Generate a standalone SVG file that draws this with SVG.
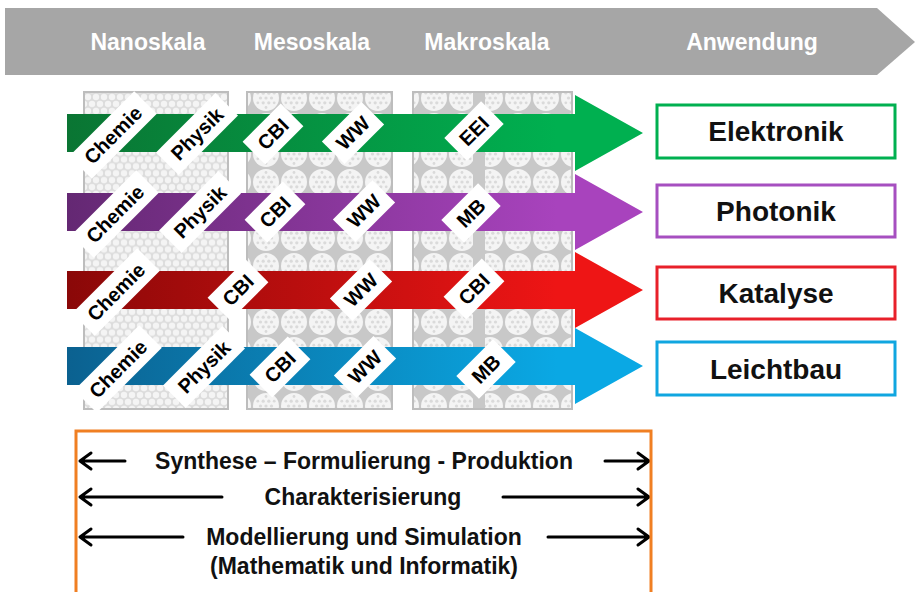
<svg xmlns="http://www.w3.org/2000/svg" width="915" height="592" viewBox="0 0 915 592">
<style>
.hdr{font-family:"Liberation Sans",Arial,sans-serif;font-weight:bold;font-size:23px;fill:#fff;text-anchor:middle}
.lbl{font-family:"Liberation Sans",Arial,sans-serif;font-weight:bold;font-size:20px;fill:#000;text-anchor:middle}
.app{font-family:"Liberation Sans",Arial,sans-serif;font-weight:bold;font-size:28px;fill:#111;text-anchor:middle}
.bt{font-family:"Liberation Sans",Arial,sans-serif;font-weight:bold;font-size:23px;fill:#111;text-anchor:middle}
.tag{fill:#fff}
.panel{stroke:#bdbdbd;stroke-width:2}
.box{fill:#fff;stroke-width:3}
.ln{fill:none;stroke:#000;stroke-width:3;stroke-linecap:round;stroke-linejoin:round}
</style>
<defs>
<pattern id="fine" width="8" height="13.86" patternUnits="userSpaceOnUse">
<rect width="8" height="13.86" fill="#dcdcdc"/>
<g fill="#f4f4f4"><circle cx="0" cy="0" r="3.2"/><circle cx="8" cy="0" r="3.2"/><circle cx="0" cy="13.86" r="3.2"/><circle cx="8" cy="13.86" r="3.2"/><circle cx="4" cy="6.93" r="3.2"/></g>
</pattern>
<pattern id="coarse" width="28" height="28" patternUnits="userSpaceOnUse">
<rect width="28" height="28" fill="#c8c8c8"/>
<circle cx="14" cy="14" r="13" fill="#f4f4f4"/>
<g fill="#dadada"><circle cx="14" cy="14" r="1.6"/><circle cx="8.5" cy="14" r="1.6"/><circle cx="19.5" cy="14" r="1.6"/><circle cx="11.2" cy="9.2" r="1.6"/><circle cx="16.8" cy="9.2" r="1.6"/><circle cx="11.2" cy="18.8" r="1.6"/><circle cx="16.8" cy="18.8" r="1.6"/><circle cx="5.8" cy="9.2" r="1.4"/><circle cx="22.2" cy="9.2" r="1.4"/><circle cx="5.8" cy="18.8" r="1.4"/><circle cx="22.2" cy="18.8" r="1.4"/><circle cx="14" cy="4.5" r="1.4"/><circle cx="14" cy="23.5" r="1.4"/></g>
</pattern>
<linearGradient id="gG" gradientUnits="userSpaceOnUse" x1="67" y1="0" x2="643" y2="0"><stop offset="0" stop-color="#0a7533"/><stop offset="0.85" stop-color="#00b050"/><stop offset="1" stop-color="#00b050"/></linearGradient>
<linearGradient id="gP" gradientUnits="userSpaceOnUse" x1="67" y1="0" x2="643" y2="0"><stop offset="0" stop-color="#642873"/><stop offset="0.85" stop-color="#a843bd"/><stop offset="1" stop-color="#a843bd"/></linearGradient>
<linearGradient id="gR" gradientUnits="userSpaceOnUse" x1="67" y1="0" x2="643" y2="0"><stop offset="0" stop-color="#8a0808"/><stop offset="0.85" stop-color="#ee1515"/><stop offset="1" stop-color="#ee1515"/></linearGradient>
<linearGradient id="gB" gradientUnits="userSpaceOnUse" x1="67" y1="0" x2="643" y2="0"><stop offset="0" stop-color="#0b6190"/><stop offset="0.85" stop-color="#0aa8e4"/><stop offset="1" stop-color="#0aa8e4"/></linearGradient>
</defs>

<g id="banner">
<path d="M5,8 H877 L915,42 L877,75 H5 Z" fill="#a6a6a6"/>
<text class="hdr" x="148" y="50">Nanoskala</text>
<text class="hdr" x="312" y="50">Mesoskala</text>
<text class="hdr" x="487" y="50">Makroskala</text>
<text class="hdr" x="752" y="50">Anwendung</text>
</g>

<g id="panels">
<rect class="panel" x="84" y="92" width="144" height="317" fill="url(#fine)"/>
<rect class="panel" x="247" y="92" width="145" height="317" fill="url(#coarse)"/>
<rect class="panel" x="413" y="92" width="159" height="317" fill="url(#coarse)"/>
<rect x="473" y="93" width="12" height="315" fill="#c8c8c8"/>
</g>

<g id="connectors">
<path id="arrow-green" d="M67,114 H575 V95 L643,133 L575,171 V152 H67 Z" fill="url(#gG)"/>
<path id="arrow-purple" d="M67,193 H575 V174 L643,212 L575,250 V231 H67 Z" fill="url(#gP)"/>
<path id="arrow-red" d="M67,271 H575 V252 L643,290 L575,328 V309 H67 Z" fill="url(#gR)"/>
<path id="arrow-blue" d="M67,347 H575 V328 L643,366 L575,404 V385 H67 Z" fill="url(#gB)"/>
<g id="range-arrows" class="ln">
<path d="M125,461 H80 M91,453 L80,461 L91,469"/>
<path d="M605,461 H649 M638,453 L649,461 L638,469"/>
<path d="M222,497 H80 M91,489 L80,497 L91,505"/>
<path d="M503,497 H649 M638,489 L649,497 L638,505"/>
<path d="M183,537 H80 M91,529 L80,537 L91,545"/>
<path d="M548,537 H649 M638,529 L649,537 L638,545"/>
</g>
</g>

<g id="tags-green">
<g transform="translate(113,135) rotate(-45)"><rect class="tag" x="-46" y="-16" width="92" height="32"/><text class="lbl" y="7">Chemie</text></g>
<g transform="translate(197,134) rotate(-45)"><rect class="tag" x="-42" y="-16" width="84" height="32"/><text class="lbl" y="7">Physik</text></g>
<g transform="translate(273,134) rotate(-45)"><rect class="tag" x="-27" y="-16" width="54" height="32"/><text class="lbl" y="7">CBI</text></g>
<g transform="translate(353,133) rotate(-45)"><rect class="tag" x="-28" y="-16" width="56" height="32"/><text class="lbl" y="7">WW</text></g>
<g transform="translate(474,131) rotate(-45)"><rect class="tag" x="-26" y="-16" width="52" height="32"/><text class="lbl" y="7">EEI</text></g>
</g>
<g id="tags-purple">
<g transform="translate(115,214) rotate(-45)"><rect class="tag" x="-46" y="-16" width="92" height="32"/><text class="lbl" y="7">Chemie</text></g>
<g transform="translate(200,212) rotate(-45)"><rect class="tag" x="-42" y="-16" width="84" height="32"/><text class="lbl" y="7">Physik</text></g>
<g transform="translate(275,212) rotate(-45)"><rect class="tag" x="-27" y="-16" width="54" height="32"/><text class="lbl" y="7">CBI</text></g>
<g transform="translate(364,211) rotate(-45)"><rect class="tag" x="-28" y="-16" width="56" height="32"/><text class="lbl" y="7">WW</text></g>
<g transform="translate(471,213) rotate(-45)"><rect class="tag" x="-26" y="-16" width="52" height="32"/><text class="lbl" y="7">MB</text></g>
</g>
<g id="tags-red">
<g transform="translate(116,292) rotate(-45)"><rect class="tag" x="-46" y="-16" width="92" height="32"/><text class="lbl" y="7">Chemie</text></g>
<g transform="translate(238,290) rotate(-45)"><rect class="tag" x="-27" y="-16" width="54" height="32"/><text class="lbl" y="7">CBI</text></g>
<g transform="translate(361,290) rotate(-45)"><rect class="tag" x="-28" y="-16" width="56" height="32"/><text class="lbl" y="7">WW</text></g>
<g transform="translate(474,289) rotate(-45)"><rect class="tag" x="-27" y="-16" width="54" height="32"/><text class="lbl" y="7">CBI</text></g>
</g>
<g id="tags-blue">
<g transform="translate(118,369) rotate(-45)"><rect class="tag" x="-46" y="-16" width="92" height="32"/><text class="lbl" y="7">Chemie</text></g>
<g transform="translate(204,367) rotate(-45)"><rect class="tag" x="-42" y="-16" width="84" height="32"/><text class="lbl" y="7">Physik</text></g>
<g transform="translate(280,367) rotate(-45)"><rect class="tag" x="-27" y="-16" width="54" height="32"/><text class="lbl" y="7">CBI</text></g>
<g transform="translate(365,367) rotate(-45)"><rect class="tag" x="-28" y="-16" width="56" height="32"/><text class="lbl" y="7">WW</text></g>
<g transform="translate(486,369) rotate(-45)"><rect class="tag" x="-26" y="-16" width="52" height="32"/><text class="lbl" y="7">MB</text></g>
</g>

<g id="elektronik"><rect class="box" x="657" y="105" width="238" height="53" stroke="#00b050"/><text class="app" x="776" y="141">Elektronik</text></g>
<g id="photonik"><rect class="box" x="657" y="185" width="238" height="52" stroke="#a64fc0"/><text class="app" x="776" y="221">Photonik</text></g>
<g id="katalyse"><rect class="box" x="657" y="267" width="238" height="52" stroke="#e8202a"/><text class="app" x="776" y="303">Katalyse</text></g>
<g id="leichtbau"><rect class="box" x="657" y="342" width="238" height="53" stroke="#10a6e0"/><text class="app" x="776" y="379">Leichtbau</text></g>

<g id="methods">
<rect x="76" y="431" width="575" height="175" fill="none" stroke="#f07f22" stroke-width="3"/>
<text class="bt" x="364" y="469">Synthese – Formulierung - Produktion</text>
<text class="bt" x="363" y="505">Charakterisierung</text>
<text class="bt" x="364" y="545">Modellierung und Simulation</text>
<text class="bt" x="364" y="574">(Mathematik und Informatik)</text>
</g>
</svg>
